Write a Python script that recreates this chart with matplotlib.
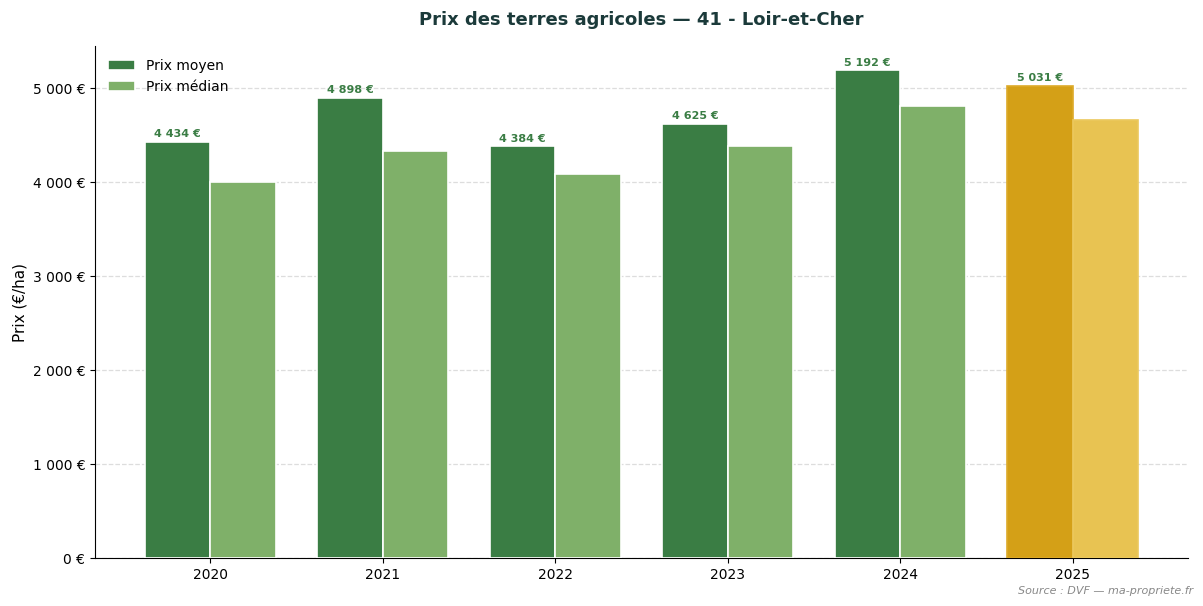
import matplotlib
matplotlib.use("Agg")
import matplotlib.pyplot as plt
import numpy as np

years = ["2020", "2021", "2022", "2023", "2024", "2025"]
prix_moyen = [4434, 4898, 4384, 4625, 5192, 5031]
prix_median = [4000, 4337, 4092, 4390, 4816, 4660]

c_moy = "#3A7D44"
c_med = "#7FB069"
c_moy_hl = "#D4A017"
c_med_hl = "#E8C352"

def fmt(v):
    return f"{v:,.0f}".replace(",", " ")

fig, ax = plt.subplots(figsize=(12.03, 6.06), dpi=100)
fig.subplots_adjust(left=0.079, right=0.9875, bottom=0.079, top=0.924)
x = np.arange(len(years))
w = 0.38
for i in range(len(years)):
    last = i == len(years) - 1
    ax.bar(x[i] - w / 2, prix_moyen[i], w,
           color=c_moy_hl if last else c_moy,
           edgecolor="#DDAA2A" if last else "white", linewidth=1.2,
           label="Prix moyen" if i == 0 else None, zorder=3)
    ax.bar(x[i] + w / 2, prix_median[i], w,
           color=c_med_hl if last else c_med,
           edgecolor="#EBC85E" if last else "white", linewidth=1.2,
           label="Prix médian" if i == 0 else None, zorder=3)
    ax.text(x[i] - w / 2, prix_moyen[i] + 30, fmt(prix_moyen[i]) + " €",
            ha="center", va="bottom", fontsize=8, fontweight="bold", color=c_moy)

ax.set_xticks(x)
ax.set_xticklabels(years)
ax.set_ylim(0, max(prix_moyen) * 1.05)
ax.yaxis.set_major_formatter(matplotlib.ticker.FuncFormatter(lambda v, p: fmt(v) + " €"))
ax.set_ylabel("Prix (€/ha)", fontsize=11)
ax.set_title("Prix des terres agricoles — 41 - Loir-et-Cher", fontsize=13,
             fontweight="bold", color="#1B3A3A", pad=15)
ax.grid(axis="y", linestyle="--", color="#DDDDDD", linewidth=0.9, zorder=0)
ax.set_axisbelow(True)
ax.spines["top"].set_visible(False)
ax.spines["right"].set_visible(False)
ax.legend(loc="upper left", frameon=False, fontsize=10)
fig.text(0.992, 0.017, "Source : DVF — ma-propriete.fr", ha="right", va="bottom",
         fontsize=8, style="italic", color="#888888")
fig.savefig("out.png", dpi=100)
